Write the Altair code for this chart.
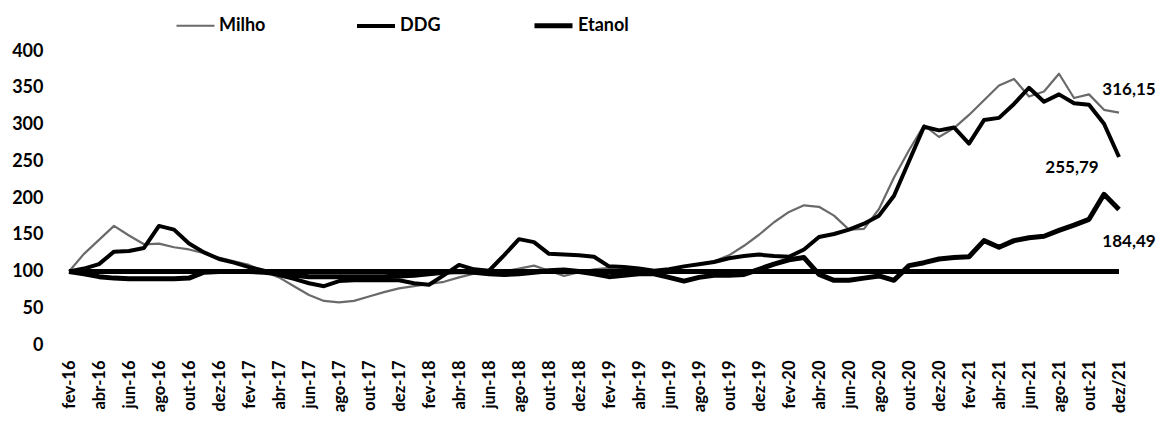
import altair as alt
import pandas as pd

# ---- categories -------------------------------------------------------
meses = ["jan", "fev", "mar", "abr", "mai", "jun", "jul", "ago", "set", "out", "nov", "dez"]
labels = []
for ano in range(16, 22):
    for k, m in enumerate(meses):
        if ano == 16 and k == 0:
            continue
        labels.append(f"{m}-{ano}")
labels[-1] = "dez/21"

order = ["Milho", "DDG", "Etanol"]

# ---- series values (fev-16 .. dez-21) ---------------------------------
milho = [
    100, 124, 143, 162, 149, 137, 138, 133, 130, 125, 119,
    114, 109, 100, 92, 80, 68, 60, 58, 60, 66, 72, 77,
    80, 83, 86, 92, 97, 100, 100, 104, 108, 101, 94, 99,
    103, 105, 106, 104, 101, 103, 107, 110, 114, 122, 135, 150,
    167, 181, 190, 188, 176, 157, 158, 185, 228, 265, 299, 283,
    295, 313, 333, 353, 362, 338, 345, 369, 336, 341, 320, 316.15,
]
ddg = [
    100, 104, 110, 127, 128, 132, 162, 157, 138, 126, 117,
    112, 106, 101, 95, 90, 84, 80, 87, 88, 88, 88, 88,
    84, 82, 95, 109, 103, 101, 122, 144, 140, 124, 123, 122,
    120, 107, 106, 104, 101, 103, 107, 110, 113, 118, 121, 123,
    121, 120, 130, 147, 151, 157, 165, 176, 203, 250, 297, 292,
    296, 274, 306, 309, 328, 350, 331, 341, 329, 327, 301, 255.79,
]
etanol = [
    100, 97, 93, 91, 90, 90, 90, 90, 91, 99, 100,
    100, 100, 99, 97, 95, 93, 93, 93, 93, 93, 93, 94,
    95, 97, 99, 100, 99, 97, 96, 97, 99, 101, 102, 100,
    97, 93, 95, 97, 97, 92, 87, 92, 95, 95, 96, 103,
    110, 116, 119, 96, 88, 88, 91, 94, 88, 108, 112, 117,
    119, 120, 142, 133, 142, 146, 148, 156, 163, 171, 205, 184.49,
]
base_value = [100]
y_ticks = [0, 50, 100, 150, 200, 250, 300, 350, 400]

rows = []
for s, vals in zip(order, [milho, ddg, etanol]):
    for m, v in zip(labels, vals):
        rows.append({"mes": m, "serie": s, "valor": v})
df = pd.DataFrame(rows)

last = pd.DataFrame({
    "mes": [labels[-1]] * 3,
    "serie": order,
    "valor": [milho[-1], ddg[-1], etanol[-1]],
})
last["texto"] = last["valor"].map(lambda v: f"{v:.2f}".replace(".", ","))

FONT = "Lato"

x_axis = alt.Axis(
    values=labels[::2], labelAngle=-90, labelAlign="right", labelBaseline="middle",
    labelFont=FONT, labelFontSize=16.5, labelFontWeight="bold", labelColor="black",
    labelPadding=15, domain=False, ticks=False, grid=False, title=None,
    labelOverlap=False,
)
x_scale = alt.Scale(type="point", domain=labels, padding=0)
y_scale = alt.Scale(domain=[0, 400], nice=False, zero=True)
y_axis = alt.Axis(
    values=y_ticks, labelFont=FONT, labelFontSize=18, labelFontWeight="bold",
    labelColor="black", labelPadding=26, domain=False, ticks=False, grid=False,
    title=None,
)

leg = alt.Legend(
    title=None, orient="none", legendX=106, legendY=-47, direction="horizontal",
    symbolType="stroke", symbolSize=1444, labelFont=FONT, labelFontSize=18,
    labelFontWeight="bold", labelColor="black", labelOffset=3, columnPadding=83,
    padding=0,
)

lines = alt.Chart(df).mark_line(strokeCap="butt", strokeJoin="round").encode(
    x=alt.X("mes:N", scale=x_scale, axis=x_axis),
    y=alt.Y("valor:Q", scale=y_scale, axis=y_axis),
    color=alt.Color("serie:N", scale=alt.Scale(domain=order, range=["#6a6a6a", "#000000", "#000000"]), legend=leg),
    strokeWidth=alt.StrokeWidth("serie:N", scale=alt.Scale(type="ordinal", domain=order, range=[2.2, 4, 5]), legend=leg),
)

base = alt.Chart(pd.DataFrame({"valor": base_value})).mark_rule(
    color="black", strokeWidth=5
).encode(y=alt.Y("valor:Q", scale=y_scale, axis=y_axis))

offsets = {"Milho": (10, -23), "DDG": (-47, 11), "Etanol": (10, 33)}
texts = []
for s in order:
    dx, dy = offsets[s]
    texts.append(
        alt.Chart(last[last["serie"] == s]).mark_text(
            dx=dx, dy=dy, font=FONT, fontSize=17, fontWeight="bold", color="black"
        ).encode(
            x=alt.X("mes:N", scale=x_scale, axis=x_axis),
            y=alt.Y("valor:Q", scale=y_scale, axis=y_axis),
            text="texto:N",
        )
    )

chart = alt.layer(lines, base, *texts).properties(
    width=1050,
    height=294,
    padding={"left": 61, "top": 43, "right": 39, "bottom": 69},
    autosize=alt.AutoSizeParams(type="none"),
).configure_view(stroke=None)

chart.save("out.html", embed_options={"renderer": "svg", "actions": False})
